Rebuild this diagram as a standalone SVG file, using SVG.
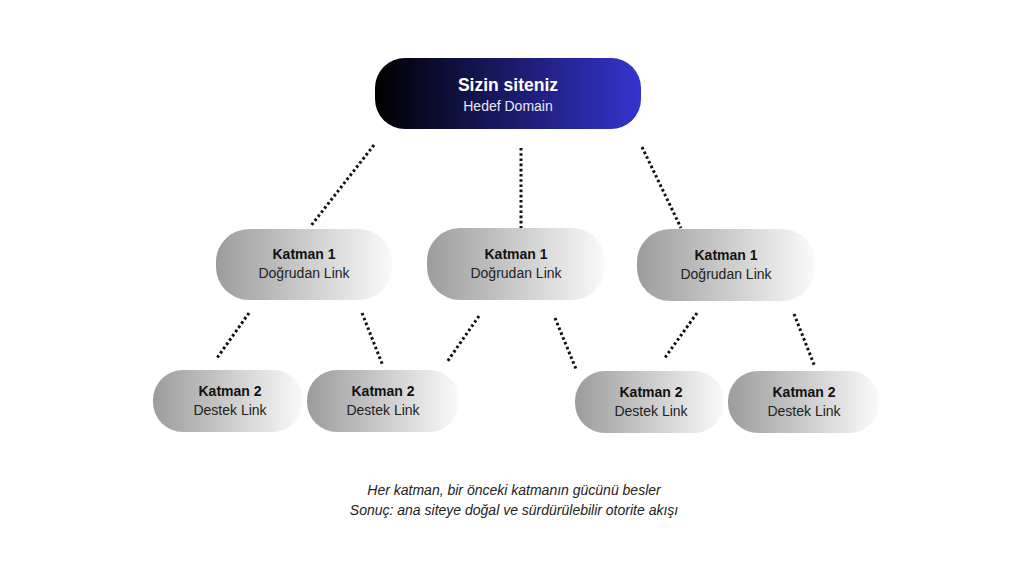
<svg xmlns="http://www.w3.org/2000/svg" width="1024" height="576" viewBox="0 0 1024 576">
<defs>
<linearGradient id="gTop" x1="0" y1="0" x2="1" y2="0">
<stop offset="0" stop-color="#000000"/>
<stop offset="1" stop-color="#3434d0"/>
</linearGradient>
<linearGradient id="gGray" x1="0" y1="0" x2="1" y2="0">
<stop offset="0" stop-color="#9c9c9c"/>
<stop offset="1" stop-color="#fafafa"/>
</linearGradient>
</defs>
<style>
.t{font-family:"Liberation Sans",Arial,sans-serif;text-anchor:middle}
.b{font-weight:bold;font-size:14px;fill:#111}
.s{font-size:14px;fill:#222}
.n{fill:url(#gGray)}
.c line{stroke:#111;stroke-width:3;stroke-dasharray:2.6 2.6}
.cap{font-family:"Liberation Sans",Arial,sans-serif;font-style:italic;font-size:14px;fill:#222;text-anchor:middle}
</style>
<rect width="1024" height="576" fill="#ffffff"/>
<g class="c" id="connectors">
<line x1="374" y1="145" x2="310" y2="227"/>
<line x1="521" y1="148" x2="521" y2="228"/>
<line x1="642" y1="147" x2="681" y2="228"/>
<line x1="249" y1="313" x2="217" y2="358"/>
<line x1="362" y1="313" x2="383" y2="366"/>
<line x1="479" y1="316" x2="447" y2="362"/>
<line x1="555" y1="318" x2="576" y2="369"/>
<line x1="697" y1="313" x2="664" y2="359"/>
<line x1="794" y1="314" x2="815" y2="367"/>
</g>
<g id="root">
<rect x="375" y="58" width="266" height="71" rx="30" fill="url(#gTop)"/>
<text class="t" x="508" y="91" font-size="17.5" font-weight="bold" fill="#ffffff">Sizin siteniz</text>
<text class="t" x="508" y="111" font-size="14" fill="#e8e8f4">Hedef Domain</text>
</g>
<g id="k1a">
<rect class="n" x="216" y="229" width="176" height="71" rx="33"/>
<text class="t b" x="304" y="259">Katman 1</text>
<text class="t s" x="304" y="278">Doğrudan Link</text>
</g>
<g id="k1b">
<rect class="n" x="427" y="228" width="178" height="72" rx="33"/>
<text class="t b" x="516" y="259">Katman 1</text>
<text class="t s" x="516" y="278">Doğrudan Link</text>
</g>
<g id="k1c">
<rect class="n" x="637" y="229" width="178" height="72" rx="33"/>
<text class="t b" x="726" y="260">Katman 1</text>
<text class="t s" x="726" y="279">Doğrudan Link</text>
</g>
<g id="k2a">
<rect class="n" x="153" y="370" width="150" height="62" rx="30"/>
<text class="t b" x="230" y="396">Katman 2</text>
<text class="t s" x="230" y="415">Destek Link</text>
</g>
<g id="k2b">
<rect class="n" x="307" y="370" width="152" height="62" rx="30"/>
<text class="t b" x="383" y="396">Katman 2</text>
<text class="t s" x="383" y="415">Destek Link</text>
</g>
<g id="k2c">
<rect class="n" x="575" y="371" width="149" height="62" rx="30"/>
<text class="t b" x="651" y="397">Katman 2</text>
<text class="t s" x="651" y="416">Destek Link</text>
</g>
<g id="k2d">
<rect class="n" x="728" y="371" width="151" height="62" rx="30"/>
<text class="t b" x="804" y="397">Katman 2</text>
<text class="t s" x="804" y="416">Destek Link</text>
</g>
<g id="caption">
<text class="cap" x="514" y="495">Her katman, bir önceki katmanın gücünü besler</text>
<text class="cap" x="514" y="515">Sonuç: ana siteye doğal ve sürdürülebilir otorite akışı</text>
</g>
</svg>
